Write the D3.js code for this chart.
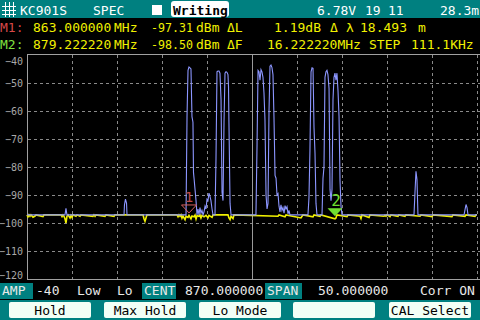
<!DOCTYPE html>
<html><head><meta charset="utf-8">
<script src="https://cdn.jsdelivr.net/npm/d3@7/dist/d3.min.js"></script>
<style>
html,body{margin:0;padding:0;background:#000;overflow:hidden}
svg{display:block}
text{font-family:"DejaVu Sans Mono",monospace}
</style></head><body>
<svg id="c" width="480" height="320"></svg>
<script>
// ---------- data ----------
const freqStart = 845, freqStop = 895;            // MHz (CENT 870, SPAN 50)
const dbTop = -40, dbBottom = -120;
const yTicks = [-40,-50,-60,-70,-80,-90,-100,-110,-120];
const xGrid = [850,855,860,865,875,880,885,890,895];
const centerLine = [870];

// max-hold trace (blue): [MHz, dBm]
const maxHoldTrace = [
 [845.00,-97.1],
 [849.22,-97.1],[849.33,-94.8],[849.44,-97.1],
 [855.78,-97.1],[855.83,-93.5],[855.94,-91.5],[856.06,-93.0],[856.11,-97.1],
 [862.67,-97.1],[862.78,-62],[862.89,-45.5],[863.00,-44.3],[863.11,-44.6],[863.22,-45],[863.33,-62],[863.44,-64],[863.50,-82],[863.56,-84],[863.67,-88],[863.78,-92],[863.89,-97.1],
 [864.00,-95],[864.11,-97.1],[864.22,-94.5],[864.33,-96.5],[864.44,-95.5],[864.56,-97.1],[864.67,-96],
 [864.78,-94],[864.89,-95],[865.00,-91.5],[865.11,-92],[865.22,-89.3],[865.33,-90.5],[865.44,-92],[865.56,-95],[865.67,-97.1],[865.89,-97.1],
 [866.00,-77],[866.11,-46],[866.22,-45.7],[866.33,-45.7],[866.44,-46.5],[866.56,-56],[866.67,-89],[866.78,-92],[866.89,-64],[867.00,-46.5],[867.11,-46],[867.22,-46.2],[867.33,-47],[867.39,-51.3],[867.44,-64.5],[867.56,-93],[867.67,-97.1],
 [870.44,-97.1],[870.56,-72],[870.67,-45.5],[870.78,-46],[870.89,-49],[871.00,-45.2],[871.11,-46],[871.22,-48],[871.33,-53.5],[871.44,-63],[871.56,-90],[871.67,-95],[871.78,-93],[871.89,-60],[872.00,-44],[872.11,-43.6],[872.22,-44.5],[872.33,-47],[872.44,-62],[872.56,-83],[872.67,-84],[872.78,-90],[872.89,-89.5],[873.00,-94],[873.11,-96],[873.22,-93.5],[873.33,-95.5],[873.44,-94.5],[873.56,-96.5],[873.67,-93.8],[873.78,-95],[873.89,-94.2],[874.00,-96.8],[874.11,-95.5],[874.22,-97.1],
 [876.22,-97.1],[876.33,-91],[876.44,-74],[876.56,-46],[876.67,-44.6],[876.78,-44.8],[876.89,-66],[877.00,-75],[877.11,-93],[877.22,-97.1],
 [877.78,-97.1],[877.89,-84],[878.00,-80],[878.11,-48],[878.22,-46],[878.33,-45.5],[878.44,-47],[878.56,-52],[878.67,-88],[878.78,-92],[878.89,-88],[879.00,-56],[879.11,-48],[879.22,-46.5],[879.33,-49],[879.44,-46.5],[879.56,-53],[879.67,-62],[879.78,-85],[879.89,-94],[880.00,-97.1],
 [888.00,-97.1],[888.11,-89],[888.22,-81.5],[888.33,-84.5],[888.44,-97.1],
 [893.56,-97.1],[893.67,-95.2],[893.78,-93.4],[893.89,-94.5],[894.00,-97.1],
 [895.00,-97.1]
];

// live trace (yellow): [MHz, dBm]
const liveTrace = [
 [845.00,-97.1],[845.11,-97.8],[845.22,-97.1],[845.33,-97.6],[845.44,-97.1],[845.67,-97.9],[845.89,-97.5],[846.00,-97.1],[846.78,-97.7],[846.89,-97.1],
 [848.78,-97.1],[848.89,-97.7],[849.00,-97.1],[849.11,-97.6],[849.22,-98.5],[849.33,-100.0],[849.44,-97.6],[849.56,-97.1],[849.78,-98.2],[849.89,-97.3],[850.00,-98.0],[850.11,-97.1],
 [850.44,-97.6],[850.56,-97.1],[850.89,-97.6],[851.00,-97.1],[852.33,-97.6],[852.44,-97.1],[852.56,-97.6],[852.67,-97.1],[853.67,-97.6],[853.78,-97.1],[854.67,-97.6],[854.78,-97.1],
 [857.89,-97.1],[858.00,-98.5],[858.11,-99.4],[858.22,-98.2],[858.33,-97.1],
 [861.67,-97.1],[861.78,-97.8],[861.89,-97.1],[862.00,-97.6],[862.11,-97.1],[862.22,-98.3],[862.33,-97.5],[862.56,-98.8],[862.67,-97.6],[862.89,-98.0],[863.00,-97.3],[863.22,-98.5],[863.33,-97.5],[863.56,-97.8],[863.67,-97.2],[863.78,-98.6],[863.89,-97.4],[864.11,-97.6],[864.22,-97.2],[864.33,-98.2],[864.44,-97.3],[864.67,-97.8],[864.89,-97.3],[865.11,-98.1],[865.22,-97.3],[865.56,-98.0],[865.67,-97.1],
 [867.33,-97.1],[867.44,-98.2],[867.56,-98.8],[867.67,-97.6],[867.89,-98.4],[868.00,-97.1],
 [872.89,-97.6],[873.00,-97.1],[873.67,-97.8],[873.78,-97.1],
 [875.44,-98.2],[875.56,-97.6],[875.67,-97.1],[876.78,-97.8],[876.89,-97.1],[877.56,-97.6],[877.67,-97.1],
 [879.22,-98.5],[879.33,-98.2],[879.44,-97.1],[880.56,-97.7],[880.67,-97.1],[882.00,-97.6],[882.11,-98.4],[882.22,-97.1],[883.00,-98.0],[883.11,-97.1],
 [884.67,-97.6],[884.78,-97.2],[884.89,-97.6],[885.00,-97.1],[885.33,-97.7],[885.44,-97.1],[886.22,-97.6],[886.33,-97.1],[887.00,-97.6],[887.11,-97.1],
 [888.67,-97.6],[888.78,-97.1],[890.00,-97.7],[890.11,-97.1],[892.22,-97.7],[892.33,-97.1],[893.67,-97.6],[893.78,-97.1],[894.78,-97.6],[894.89,-97.1],[895.00,-97.1]
];

const markerFreqs = [863.0, 879.22222];
const markerValues = [-97.31, -98.50];
const markerNames = ["1","2"];

const headerTop = ["KC901S","SPEC","Writing","6.78V","19","11","28.3m"];
const m1Row = ["M1:","863.000000","MHz","-97.31","dBm","\u0394L","1.19dB","\u0394","\u03bb","18.493","m"];
const m2Row = ["M2:","879.222220","MHz","-98.50","dBm","\u0394F","16.222220MHz","STEP","111.1KHz"];
const statusRow = ["AMP","-40","Low","Lo","CENT","870.000000","SPAN","50.000000","Corr ON"];
const softKeys = ["Hold","Max Hold","Lo Mode","","CAL Select"];

// ---------- drawing ----------
const svg = d3.select("#c");
const TEAL = "#008080", YEL = "#f0f000", GRID = "#8a8a8a";
const x = d3.scaleLinear().domain([freqStart,freqStop]).range([27,477]);
const y = d3.scaleLinear().domain([dbTop,dbBottom]).range([55,279]);

svg.append("rect").attr("width",480).attr("height",320).attr("fill","#000");

// header bar
svg.append("rect").attr("x",0).attr("y",0).attr("width",480).attr("height",18).attr("fill",TEAL);
const icon = svg.append("g").attr("stroke","#fff").attr("stroke-width",1).attr("fill","none");
[[5.5,2,5.5,17],[9.5,2,9.5,17],[13.5,2,13.5,17],[2,6.5,16,6.5],[2,10.5,16,10.5],[2,14.5,16,14.5]].forEach(l=>
  icon.append("line").attr("x1",l[0]).attr("y1",l[1]).attr("x2",l[2]).attr("y2",l[3]));
const ht = (t,xx,fill)=>svg.append("text").attr("x",xx).attr("y",15).attr("fill",fill||"#fff").attr("font-size",13).text(t);
ht(headerTop[0],20); ht(headerTop[1],93);
svg.append("rect").attr("x",152).attr("y",5).attr("width",10).attr("height",10).attr("fill","#fff");
svg.append("rect").attr("x",171).attr("y",1).attr("width",58).attr("height",16).attr("rx",3).attr("fill","#fff");
ht(headerTop[2],173,"#000").attr("font-weight","bold");
ht(headerTop[3],317); ht(headerTop[4],365); ht(headerTop[5],388); ht(headerTop[6],440);

// marker info rows
const row = (arr,xs,yy,colors,lens)=>arr.forEach((t,i)=>{
  const tx = svg.append("text").attr("x",xs[i]).attr("y",yy).attr("fill",colors[i]).attr("font-size",13).text(t);
  if(lens && lens[i]) tx.attr("textLength",lens[i]).attr("lengthAdjust","spacingAndGlyphs");
});
row(m1Row,[0,33,114,151,196,227,274,330,346,360,418],32,["#d84848"].concat(Array(10).fill(YEL)),
    [0,0,0,42,0,0,0,0,0,0,0]);
row(m2Row,[0,33,114,151,196,227,267,369,411],49,["#80e040"].concat(Array(8).fill(YEL)),
    [0,0,0,42,0,0,0,0,0]);

// plot grid
const grid = svg.append("g");
grid.selectAll("line.h").data(yTicks.filter(d=>d!==dbTop && d!==dbBottom)).enter().append("line")
  .attr("x1",28).attr("x2",480).attr("y1",d=>Math.round(y(d))+0.5).attr("y2",d=>Math.round(y(d))+0.5)
  .attr("stroke",GRID).attr("stroke-dasharray","3,3");
grid.selectAll("line.v").data(xGrid).enter().append("line")
  .attr("y1",55).attr("y2",279).attr("x1",d=>Math.round(x(d))+0.5).attr("x2",d=>Math.round(x(d))+0.5)
  .attr("stroke",GRID).attr("stroke-dasharray","3,3");
grid.selectAll("line.c").data(centerLine).enter().append("line")
  .attr("y1",55).attr("y2",279).attr("x1",d=>Math.round(x(d))+0.5).attr("x2",d=>Math.round(x(d))+0.5)
  .attr("stroke","#9a9a9a");
// frame
svg.append("line").attr("x1",27).attr("x2",480).attr("y1",54.5).attr("y2",54.5).attr("stroke","#a0a0a0");
svg.append("line").attr("x1",27).attr("x2",480).attr("y1",279.5).attr("y2",279.5).attr("stroke","#a0a0a0");
svg.append("line").attr("x1",27.5).attr("x2",27.5).attr("y1",54).attr("y2",280).attr("stroke","#a0a0a0");

// y axis labels
const ax = svg.append("g").attr("transform","translate(27,0)")
  .call(d3.axisLeft(y).tickValues(yTicks).tickSize(0).tickPadding(4).tickFormat(d3.format("d")));
ax.select(".domain").remove();
ax.selectAll("text").attr("fill","#a8a8a8").attr("font-size",10).attr("font-family","DejaVu Sans Mono")
  .attr("dy",d=> d===dbTop ? "0.95em" : d===dbBottom ? "-0.1em" : "0.35em");

// traces
const line = d3.line().x(d=>x(d[0])).y(d=>y(d[1]));
svg.append("path").datum(liveTrace).attr("d",line).attr("fill","none").attr("stroke",YEL).attr("stroke-width",1.6);
svg.append("path").datum(maxHoldTrace).attr("d",line).attr("fill","none").attr("stroke","#8c96ff").attr("stroke-width",1.1);

// markers
const mk = svg.append("g");
markerFreqs.forEach((f,i)=>{
  const mx = x(f), my = y(markerValues[i]) - 2.5;
  const tri = `M${mx-7.5},${my-8} L${mx+7.5},${my-8} L${mx},${my} Z`;
  if(i===0){
    mk.append("path").attr("d",tri).attr("fill","none").attr("stroke","#d86060").attr("stroke-width",1);
    mk.append("text").attr("x",mx).attr("y",my-11).attr("text-anchor","middle").attr("fill","#c04848")
      .attr("font-size",14).text(markerNames[i]);
  } else {
    mk.append("path").attr("d",tri).attr("fill","#70e030");
    mk.append("text").attr("x",mx+1).attr("y",my-10).attr("text-anchor","middle").attr("fill","#70e030")
      .attr("font-size",16).text(markerNames[i]);
  }
});

// status row
svg.append("rect").attr("x",0).attr("y",280).attr("width",480).attr("height",20).attr("fill","#000");
[[0,33],[142,34],[265,37]].forEach(b=>svg.append("rect").attr("x",b[0]).attr("y",283).attr("width",b[1]).attr("height",16).attr("fill",TEAL));
row(statusRow,[2,36,77,117,144,185,267,318,420],295,Array(9).fill("#e8e8e8"));

// soft keys
svg.append("rect").attr("x",0).attr("y",300).attr("width",480).attr("height",20).attr("fill",TEAL);
const keyX = [9,104,199,293,389];
softKeys.forEach((k,i)=>{
  svg.append("rect").attr("x",keyX[i]).attr("y",302).attr("width",82).attr("height",16).attr("rx",2).attr("fill","#f2fff6");
  svg.append("text").attr("x",keyX[i]+41).attr("y",315).attr("text-anchor","middle").attr("fill","#000")
    .attr("font-size",13).text(k);
});
</script>
</body></html>
